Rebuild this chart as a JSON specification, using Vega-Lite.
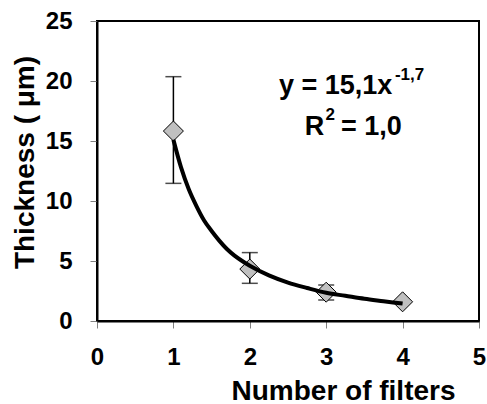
{
  "$schema": "https://vega.github.io/schema/vega-lite/v6.json",
  "width": 382,
  "height": 300,
  "autosize": {"type": "none"},
  "padding": {"left": 97, "top": 21, "right": 8, "bottom": 83},
  "background": "white",
  "config": {
    "view": {"stroke": "black", "strokeWidth": 2},
    "font": "Liberation Sans",
    "axis": {
      "grid": false,
      "domainColor": "black",
      "domainWidth": 2,
      "tickColor": "#808080",
      "tickWidth": 1,
      "tickSize": 7,
      "labelFont": "Liberation Sans",
      "labelFontSize": 24,
      "labelFontWeight": "bold",
      "labelColor": "black",
      "titleFont": "Liberation Sans",
      "titleFontSize": 28,
      "titleFontWeight": "bold",
      "titleColor": "black"
    }
  },
  "datasets": {
    "points": [
      {"filters": 1, "thickness": 15.83, "lo": 11.47, "hi": 20.36},
      {"filters": 2, "thickness": 4.33, "lo": 3.14, "hi": 5.7},
      {"filters": 3, "thickness": 2.4, "lo": 1.75, "hi": 3.0},
      {"filters": 4, "thickness": 1.6, "lo": 1.5, "hi": 1.7}
    ],
    "curve": [
      {"filters": 1.0, "thickness": 15.1},
      {"filters": 1.1, "thickness": 12.8},
      {"filters": 1.2, "thickness": 11.0},
      {"filters": 1.3, "thickness": 9.6},
      {"filters": 1.4, "thickness": 8.4},
      {"filters": 1.5, "thickness": 7.5},
      {"filters": 1.6, "thickness": 6.7},
      {"filters": 1.7, "thickness": 6.0},
      {"filters": 1.8, "thickness": 5.45},
      {"filters": 1.9, "thickness": 5.0},
      {"filters": 2.0, "thickness": 4.6},
      {"filters": 2.25, "thickness": 3.8},
      {"filters": 2.5, "thickness": 3.2},
      {"filters": 2.75, "thickness": 2.75},
      {"filters": 3.0, "thickness": 2.35},
      {"filters": 3.25, "thickness": 2.1},
      {"filters": 3.5, "thickness": 1.85},
      {"filters": 3.75, "thickness": 1.65},
      {"filters": 4.0, "thickness": 1.45}
    ],
    "annotations": [
      {"label": "y = 15,1x", "ax": 2.382, "ay": 18.92, "sz": "big"},
      {"label": "-1,7", "ax": 3.9, "ay": 20.08, "sz": "small"},
      {"label": "R", "ax": 2.72, "ay": 15.5, "sz": "big"},
      {"label": "2", "ax": 2.99, "ay": 16.75, "sz": "small"},
      {"label": "= 1,0", "ax": 3.194, "ay": 15.5, "sz": "big"}
    ]
  },
  "layer": [
    {
      "data": {"name": "points"},
      "mark": {"type": "rule", "color": "black", "strokeWidth": 1.5},
      "encoding": {
        "x": {
          "field": "filters",
          "type": "quantitative",
          "scale": {"domain": [0, 5], "nice": false},
          "axis": {
            "values": [0, 1, 2, 3, 4, 5],
            "format": "d",
            "title": "Number of filters",
            "labelPadding": 17,
            "titleX": 246,
            "titleY": 78,
            "titleAlign": "center",
            "titleBaseline": "alphabetic",
            "labelFlush": false
          }
        },
        "y": {
          "field": "lo",
          "type": "quantitative",
          "scale": {"domain": [0, 25], "nice": false},
          "axis": {
            "values": [0, 5, 10, 15, 20, 25],
            "format": "d",
            "title": "Thickness ( μm)",
            "labelPadding": 18,
            "titleX": -72,
            "titleY": 141,
            "titleAlign": "center",
            "titleBaseline": "middle",
            "labelFlush": false
          }
        },
        "y2": {"field": "hi"}
      }
    },
    {
      "data": {"name": "points"},
      "mark": {"type": "tick", "orient": "horizontal", "size": 16, "thickness": 1.5, "color": "black"},
      "encoding": {
        "x": {"field": "filters", "type": "quantitative"},
        "y": {"field": "lo", "type": "quantitative"}
      }
    },
    {
      "data": {"name": "points"},
      "mark": {"type": "tick", "orient": "horizontal", "size": 16, "thickness": 1.5, "color": "black"},
      "encoding": {
        "x": {"field": "filters", "type": "quantitative"},
        "y": {"field": "hi", "type": "quantitative"}
      }
    },
    {
      "data": {"name": "points"},
      "mark": {"type": "point", "shape": "diamond", "size": 400, "filled": true, "fill": "#c0c0c0", "stroke": "black", "strokeWidth": 1, "opacity": 1},
      "encoding": {
        "x": {"field": "filters", "type": "quantitative"},
        "y": {"field": "thickness", "type": "quantitative"}
      }
    },
    {
      "data": {"name": "curve"},
      "mark": {"type": "line", "color": "black", "strokeWidth": 4, "interpolate": "monotone"},
      "encoding": {
        "x": {"field": "filters", "type": "quantitative"},
        "y": {"field": "thickness", "type": "quantitative"}
      }
    },
    {
      "data": {"name": "annotations"},
      "transform": [{"filter": "datum.sz === 'big'"}],
      "mark": {"type": "text", "align": "left", "baseline": "alphabetic", "fontSize": 27, "fontWeight": "bold", "font": "Liberation Sans", "color": "black"},
      "encoding": {
        "x": {"field": "ax", "type": "quantitative"},
        "y": {"field": "ay", "type": "quantitative"},
        "text": {"field": "label"}
      }
    },
    {
      "data": {"name": "annotations"},
      "transform": [{"filter": "datum.sz === 'small'"}],
      "mark": {"type": "text", "align": "left", "baseline": "alphabetic", "fontSize": 17, "fontWeight": "bold", "font": "Liberation Sans", "color": "black"},
      "encoding": {
        "x": {"field": "ax", "type": "quantitative"},
        "y": {"field": "ay", "type": "quantitative"},
        "text": {"field": "label"}
      }
    }
  ]
}
